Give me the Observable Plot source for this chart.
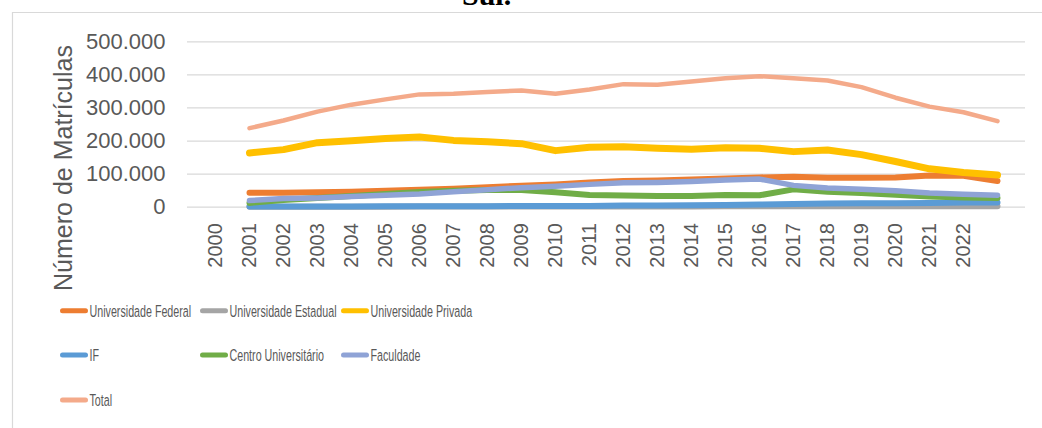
<!DOCTYPE html>
<html>
<head>
<meta charset="utf-8">
<script src="https://cdn.jsdelivr.net/npm/d3@7"></script>
<script src="https://cdn.jsdelivr.net/npm/@observablehq/plot@0.6"></script>
<style>
  html, body { margin: 0; padding: 0; background: #fff; }
  #wrap { position: relative; width: 1042px; height: 428px; overflow: hidden; }
  #wrap svg { display: block; }
  #overlay { position: absolute; left: 0; top: 0; pointer-events: none; }
</style>
</head>
<body>
<div id="wrap"></div>
<script>
// ---- data ----
const yearLabels = ["2000","2001","2002","2003","2004","2005","2006","2007","2008","2009","2010",
  "2011","2012","2013","2014","2015","2016","2017","2018","2019","2020","2021","2022"];
const slots = [...yearLabels, ""];          // category slots on the axis (last one unlabeled)
const dataSlots = slots.slice(1);           // the 23 data points start at the 2nd slot

const seriesNames = ["Universidade Federal","Universidade Estadual","Universidade Privada",
  "IF","Centro Universitário","Faculdade","Total"];

const federal  = [44000,44000,45000,47000,50000,53000,56000,60000,65000,69000,75000,79000,81000,84000,87000,90000,92000,89000,89000,90000,96000,95000,79000];
const estadual = [1000,1000,1000,1000,1000,2000,2000,2000,2000,2000,2000,2000,2000,2000,3000,3000,3000,3000,3000,3000,3000,3000,3000];
const privada  = [164000,174000,195000,201000,208000,212000,202000,198000,192000,171000,181000,183000,178000,175000,180000,178000,168000,173000,159000,138000,116000,105000,97000];
const ifed     = [2000,2000,2000,2000,3000,3000,3000,3000,4000,4000,4000,5000,5000,6000,7000,8000,10000,11000,12000,12000,13000,14000,14000];
const centro   = [13000,22000,28000,34000,40000,46000,50000,52000,52000,45000,37000,35000,34000,34000,37000,36000,54000,47000,43000,38000,32000,29000,28000];
const faculdade= [20000,26000,28000,32000,36000,40000,47000,53000,59000,63000,69000,74000,75000,78000,82000,85000,66000,58000,54000,50000,43000,39000,36000];
const total    = [239000,262000,289000,310000,326000,341000,343000,348000,353000,343000,356000,372000,370000,380000,390000,396000,390000,383000,363000,331000,304000,287000,260000];

const yTicks = [0,100000,200000,300000,400000,500000];

// ---- styles ----
const seriesValues = [federal, estadual, privada, ifed, centro, faculdade, total];
const seriesColors = ["#ED7D31","#A5A5A5","#FFC000","#5B9BD5","#70AD47","#8FA3D6","#F4AA8A"];
const seriesWidths = [6, 6, 7, 6, 6, 5.5, 4.5];

const rows = [];
seriesNames.forEach((name, s) => {
  seriesValues[s].forEach((v, j) => rows.push({series: name, slot: dataSlots[j], value: v}));
});

const fmt = d3.formatLocale({decimal: ",", thousands: ".", grouping: [3], currency: ["R$", ""]}).format(",.0f");
const font = "'Liberation Sans', Arial, sans-serif";

const lineMarks = seriesNames.map((name, s) =>
  Plot.line(rows.filter(r => r.series === name), {
    x: "slot", y: "value", stroke: seriesColors[s], strokeWidth: seriesWidths[s],
    strokeLinecap: "round", strokeLinejoin: "round"
  })
);

const chart = Plot.plot({
  width: 1042,
  height: 290,
  marginLeft: 187,
  marginRight: 17,
  marginTop: 41.3,
  marginBottom: 83.3,
  style: {fontFamily: font, color: "#595959", background: "transparent", overflow: "visible"},
  x: {type: "point", domain: slots, padding: 0.5},
  y: {domain: [0, 500000]},
  marks: [
    Plot.gridY({ticks: yTicks, stroke: "#D9D9D9", strokeOpacity: 1, strokeWidth: 1.3}),
    ...lineMarks,
    Plot.axisY({ticks: yTicks, tickFormat: fmt, tickSize: 0, tickPadding: 22, fontSize: 22, label: null}),
    Plot.axisX({tickSize: 0, tickPadding: 16, tickRotate: -90, fontSize: 20, label: null})
  ]
});

const wrap = document.getElementById("wrap");
wrap.appendChild(chart);

// ---- legend (below the plot) ----
const legend = d3.create("svg").attr("width", 1042).attr("height", 138);
const colX = [60, 200, 341];
const rowY = [20.7, 65, 110];
seriesNames.forEach((name, i) => {
  const cx = colX[i % 3], cy = rowY[Math.floor(i / 3)];
  legend.append("line")
    .attr("x1", cx + 2.5).attr("x2", cx + 25.5).attr("y1", cy).attr("y2", cy)
    .attr("stroke", seriesColors[i]).attr("stroke-width", 5).attr("stroke-linecap", "round");
  legend.append("text")
    .attr("transform", `translate(${cx + 29.5},${cy + 6.4}) scale(0.63,1)`)
    .attr("font-family", font).attr("font-size", 17).attr("fill", "#595959")
    .text(name);
});
wrap.appendChild(legend.node());

// ---- overlay: frame, title fragment, y axis title ----
const ov = d3.create("svg").attr("id", "overlay").attr("width", 1042).attr("height", 428);
ov.append("path").attr("d", "M12.5,428 V12.5 H1042").attr("fill", "none")
  .attr("stroke", "#D9D9D9").attr("stroke-width", 1.2);
ov.append("text").attr("x", 462).attr("y", 4.5)
  .attr("font-family", "'Liberation Serif', 'Times New Roman', serif")
  .attr("font-weight", "bold").attr("font-size", 30).attr("fill", "#000")
  .text("Sul.");
ov.append("text").attr("transform", "translate(72,168) rotate(-90)")
  .attr("text-anchor", "middle").attr("font-family", font).attr("font-size", 25)
  .attr("fill", "#595959").text("Número de Matrículas");
wrap.appendChild(ov.node());
</script>
</body>
</html>
